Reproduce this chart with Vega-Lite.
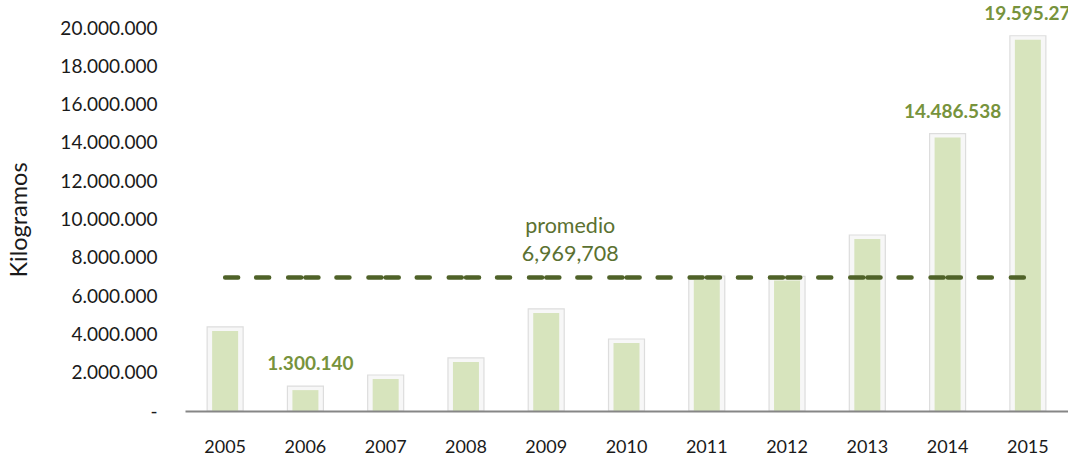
{
  "$schema": "https://vega.github.io/schema/vega-lite/v6.json",
  "width": 883,
  "height": 383,
  "autosize": {"type": "none"},
  "padding": {"left": 185, "top": 28, "right": 0, "bottom": 48},
  "background": "white",
  "config": {"view": {"stroke": null}, "font": "Lato", "axis": {"labelOverlap": false}, "axisY": {"labelOverlap": false}},
  "data": {
    "values": [
      {"anio": "2005", "kg": 4390000, "promedio": 6969708, "etiqueta": null},
      {"anio": "2006", "kg": 1300140, "promedio": 6969708, "etiqueta": "1.300.140"},
      {"anio": "2007", "kg": 1880000, "promedio": 6969708, "etiqueta": null},
      {"anio": "2008", "kg": 2770000, "promedio": 6969708, "etiqueta": null},
      {"anio": "2009", "kg": 5330000, "promedio": 6969708, "etiqueta": null},
      {"anio": "2010", "kg": 3760000, "promedio": 6969708, "etiqueta": null},
      {"anio": "2011", "kg": 7050000, "promedio": 6969708, "etiqueta": null},
      {"anio": "2012", "kg": 7030000, "promedio": 6969708, "etiqueta": null},
      {"anio": "2013", "kg": 9190000, "promedio": 6969708, "etiqueta": null},
      {"anio": "2014", "kg": 14486538, "promedio": 6969708, "etiqueta": "14.486.538"},
      {"anio": "2015", "kg": 19595272, "promedio": 6969708, "etiqueta": "19.595.272"}
    ]
  },
  "encoding": {
    "x": {
      "field": "anio",
      "type": "ordinal",
      "scale": {"paddingInner": 0, "paddingOuter": 0},
      "axis": {
        "title": null,
        "labelAngle": 0,
        "labelFont": "Lato",
        "labelFontSize": 18,
        "labelColor": "#1a1a1a",
        "labelPadding": 27,
        "ticks": false,
        "domainColor": "#868686",
        "domainWidth": 2,
        "zindex": 1
      }
    },
    "y": {
      "field": "kg",
      "type": "quantitative",
      "scale": {"domain": [0, 20000000], "nice": false, "zero": true},
      "axis": {
        "title": "Kilogramos",
        "titleFont": "Lato",
        "titleFontSize": 23.5,
        "titleFontWeight": "normal",
        "titleColor": "#1a1a1a",
        "titlePadding": 28,
        "tickCount": 10,
        "labelExpr": "datum.value == 0 ? '-\u00a0\u00a0\u00a0' : replace(format(datum.value, ','), regexp(',', 'g'), '.')",
        "labelOverlap": false,
        "labelSeparation": -30,
        "labelBound": false,
        "labelFont": "Lato",
        "labelFontSize": 19,
        "labelColor": "#1a1a1a",
        "labelPadding": 28,
        "ticks": false,
        "domain": false,
        "grid": false
      }
    }
  },
  "layer": [
    {
      "mark": {"type": "bar", "size": 36, "fill": "#f7f7f7", "stroke": "#dddddd", "strokeWidth": 1.2, "clip": true}
    },
    {
      "mark": {"type": "bar", "size": 26, "fill": "#d7e4bd", "yOffset": 4, "clip": true}
    },
    {
      "mark": {"type": "line", "color": "#4f6228", "strokeWidth": 4.5, "strokeCap": "round", "strokeDash": [13, 18, 13, 19, 13, 4.3]},
      "encoding": {"y": {"field": "promedio", "type": "quantitative"}}
    },
    {
      "transform": [{"filter": "datum.etiqueta != null"}],
      "mark": {"type": "text", "font": "Lato", "fontSize": 19, "fontWeight": "bold", "color": "#77933c", "baseline": "middle", "dy": -22, "dx": 5},
      "encoding": {
        "text": {"field": "etiqueta"}
      }
    },
    {
      "transform": [{"filter": "datum.anio == '2009'"}],
      "mark": {"type": "text", "font": "Lato", "fontSize": 21.5, "color": "#5b7131", "baseline": "middle", "align": "center", "dx": 24, "dy": -51, "lineBreak": "\n", "lineHeight": 28},
      "encoding": {
        "y": {"field": "promedio", "type": "quantitative"},
        "text": {"value": "promedio\n6,969,708"}
      }
    }
  ]
}
